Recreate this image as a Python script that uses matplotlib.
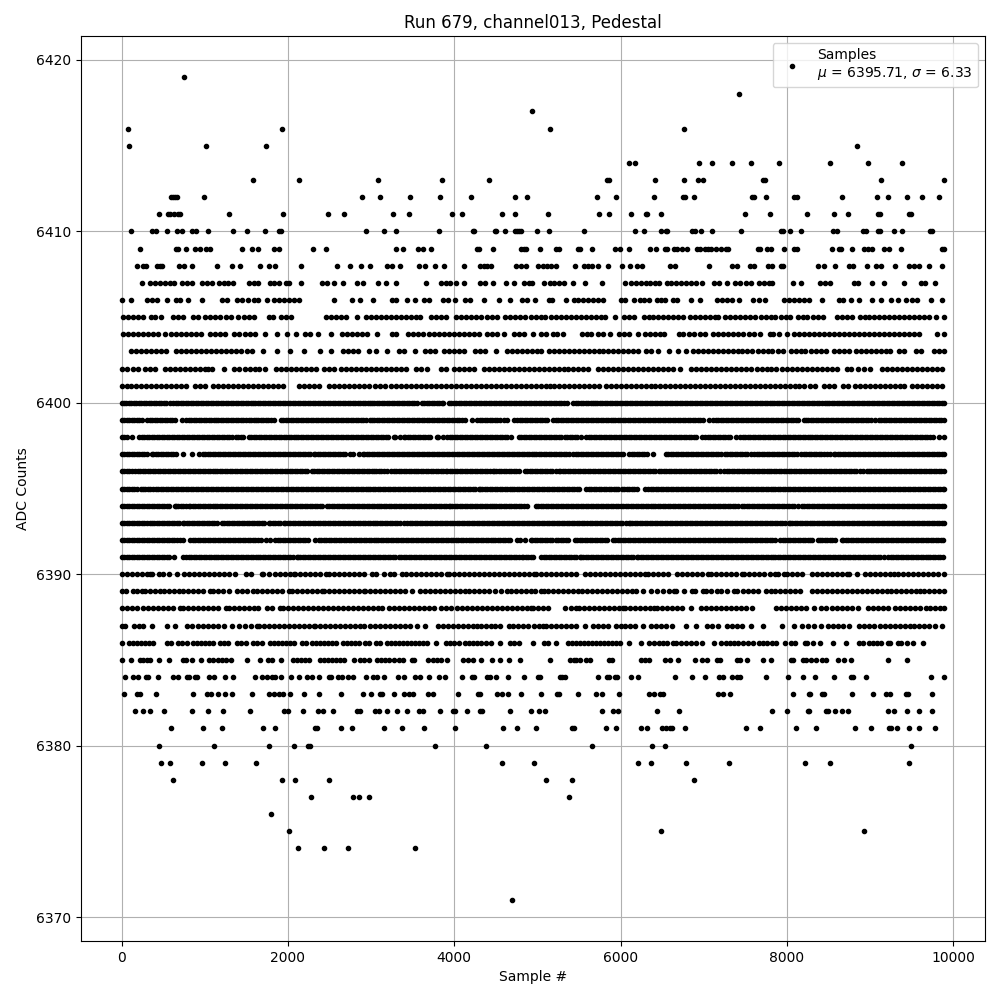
import matplotlib
matplotlib.use("Agg")
import matplotlib.pyplot as plt

# sample numbers, one list for each ADC level
s6419 = [755]
s6418 = [7430]
s6417 = [4935]
s6416 = [80, 1923, 5153, 6767]
s6415 = [92, 1020, 1742, 8839]
s6414 = [6104, 6177, 6948, 7104, 7345, 7574, 7900, 8514, 8972, 9381]
s6413 = [1574, 2128, 3080, 3850, 4416, 5839, 5863, 6418, 6767, 6936, 6996, 7707, 7731, 9128, 9887]
s6412 = [598, 622, 646, 670, 996, 2887, 3104, 3465, 3826, 4200, 4730, 4874, 5719, 5948, 6406, 6755, 6779, 6888,
         7586, 7610, 7743, 8080, 8116, 8659, 9080, 9213, 9442, 9622, 9827]
s6411 = [454, 562, 586, 634, 683, 707, 1297, 1935, 2477, 2670, 3260, 3453, 3970, 4091, 4573, 4730, 5129, 5743, 5863,
         6128, 6309, 6321, 6490, 7502, 7791, 8237, 8562, 8731, 9092, 9116, 9466, 9490]
s6410 = [116, 369, 418, 550, 670, 731, 851, 899, 1044, 1345, 1502, 1730, 1887, 1911, 2935, 3152, 3296, 3814, 4224, 4236,
         4489, 4501, 4609, 4730, 4754, 4778, 4802, 4996, 5141, 5562, 6177, 6285, 6490, 6550, 6562, 6863, 6900, 6972, 7104,
         7454, 7924, 7948, 8032, 8165, 8550, 8598, 8912, 8948, 9092, 9116, 9285, 9381, 9719, 9743]
s6409 = [225, 658, 683, 779, 887, 948, 1020, 1068, 1453, 1562, 1646, 1827, 1887, 2297, 2453, 3296, 3381, 3561, 3622, 3718,
         4272, 4296, 4465, 4802, 4838, 4862, 5032, 5225, 5261, 5490, 5514, 5659, 5936, 5996, 6104, 6357, 6430, 6538, 6562,
         6647, 6683, 6743, 6803, 6924, 6960, 7020, 7056, 7092, 7153, 7213, 7273, 7297, 7647, 7671, 7755, 7803, 7960, 8080,
         8116, 8538, 8622, 8647, 8779, 8924, 8972, 9020, 9165, 9225, 9369, 9863, 9885]
s6408 = [189, 261, 297, 430, 466, 490, 695, 755, 851, 1152, 1333, 1429, 1670, 1767, 1839, 2152, 2586, 2742, 2875, 2983,
         3188, 3248, 3344, 3573, 3646, 3766, 3874, 4115, 4308, 4356, 4396, 4445, 4742, 4802, 4862, 5008, 5068, 5117, 5165,
         5225, 5454, 5562, 5610, 5659, 5731, 5851, 6020, 6116, 6201, 6261, 6598, 6659, 7068, 7345, 7406, 7562, 7610, 7767,
         7827, 7924, 7948, 8369, 8442, 8574, 8743, 8791, 8960, 9068, 9128, 9297, 9466, 9526, 9586, 9707, 9863]
s6407 = [249, 341, 401, 462, 522, 582, 630, 731, 791, 851, 972, 1032, 1092, 1176, 1237, 1285, 1345, 1526, 1586, 1646,
         1779, 1827, 1887, 1971, 2008, 2152, 2405, 2465, 2550, 2658, 2827, 2899, 3080, 3176, 3296, 3658, 3839, 3899, 3947,
         4019, 4115, 4308, 4368, 4465, 4621, 4717, 4838, 4898, 4936, 5080, 5153, 5201, 5261, 5321, 5430, 5574, 5779, 6056,
         6128, 6189, 6249, 6309, 6357, 6418, 6466, 6562, 6610, 6671, 6731, 6791, 6851, 6912, 6984, 7128, 7189, 7285, 7382,
         7442, 7514, 7574, 7659, 7719, 7779, 7827, 8068, 8165, 8394, 8454, 8514, 8803, 8851, 9020, 9165, 9406, 9610, 9659,
         9779]
s6406 = [8, 116, 309, 369, 430, 550, 658, 707, 803, 972, 1213, 1273, 1393, 1453, 1514, 1586, 1646, 1743, 1827, 1887, 1947,
         2008, 2068, 2128, 2550, 2767, 2863, 3019, 3248, 3296, 3429, 3525, 3634, 3694, 3863, 3923, 4007, 4127, 4188, 4356,
         4537, 4669, 4814, 4874, 4972, 5141, 5177, 5345, 5442, 5490, 5550, 5610, 5671, 5731, 5791, 6008, 6056, 6165, 6237,
         6285, 6345, 6442, 6490, 6538, 6635, 6683, 6851, 6960, 7165, 7225, 7285, 7345, 7430, 7598, 7659, 7731, 7960, 8020,
         8080, 8141, 8201, 8261, 8418, 8622, 8671, 8767, 8863, 9020, 9128, 9249, 9333, 9430, 9502, 9562, 9731, 9863]
s6405 = [20, 80, 141, 201, 261, 357, 406, 478, 622, 683, 743, 863, 923, 1008, 1068, 1128, 1188, 1261, 1321, 1405, 1466,
         1526, 1586, 1767, 1815, 1911, 1971, 2032, 2453, 2513, 2574, 2634, 2694, 2827, 2935, 2995, 3056, 3116, 3176, 3236,
         3296, 3357, 3417, 3477, 3537, 3585, 3718, 3778, 3838, 3899, 4019, 4079, 4140, 4200, 4260, 4320, 4392, 4453, 4513,
         4609, 4669, 4730, 4790, 4850, 4924, 4984, 5044, 5092, 5165, 5225, 5285, 5345, 5406, 5466, 5526, 5586, 5647, 5707,
         5767, 5815, 5936, 6044, 6104, 6165, 6285, 6345, 6394, 6454, 6514, 6574, 6635, 6695, 6755, 6839, 6900, 6960, 7020,
         7080, 7141, 7177, 7261, 7321, 7382, 7442, 7502, 7562, 7622, 7683, 7743, 7803, 7863, 7924, 7984, 8032, 8129, 8189,
         8237, 8309, 8369, 8430, 8598, 8659, 8719, 8779, 8875, 8936, 8984, 9044, 9104, 9165, 9225, 9285, 9345, 9406, 9466,
         9526, 9586, 9647, 9707, 9791, 9888]
s6404 = [20, 80, 141, 201, 261, 321, 381, 442, 526, 598, 658, 719, 779, 839, 899, 960, 1068, 1128, 1188, 1249, 1357, 1417,
         1478, 1538, 1598, 1719, 1863, 1983, 2092, 2200, 2260, 2357, 2513, 2646, 2706, 2766, 2827, 2887, 2947, 3067, 3248,
         3296, 3441, 3501, 3562, 3622, 3694, 3754, 3814, 3875, 3935, 3995, 4055, 4115, 4176, 4236, 4296, 4392, 4453, 4513,
         4597, 4718, 4778, 4838, 4948, 5044, 5104, 5189, 5237, 5309, 5538, 5598, 5647, 5731, 5791, 5876, 5984, 6044, 6104,
         6213, 6297, 6357, 6418, 6478, 6526, 6707, 6755, 6827, 6888, 6960, 7020, 7116, 7177, 7237, 7297, 7357, 7418, 7478,
         7550, 7610, 7671, 7791, 7839, 7900, 7996, 8080, 8141, 8201, 8261, 8321, 8382, 8442, 8502, 8562, 8622, 8683, 8743,
         8803, 8863, 8924, 8984, 9044, 9104, 9165, 9225, 9285, 9345, 9406, 9466, 9526, 9586, 9803, 9888]
s6403 = [116, 176, 237, 297, 357, 418, 478, 538, 658, 719, 779, 839, 899, 960, 1020, 1080, 1140, 1201, 1261, 1321, 1381,
         1441, 1502, 1562, 1706, 1863, 2020, 2188, 2381, 2513, 2658, 2718, 2778, 2839, 2971, 3056, 3196, 3332, 3393, 3525,
         3646, 3706, 3766, 3875, 3935, 3995, 4055, 4115, 4248, 4308, 4368, 4501, 4633, 4693, 4754, 4814, 4874, 4934, 4995,
         5044, 5141, 5201, 5261, 5321, 5382, 5442, 5502, 5562, 5622, 5683, 5743, 5791, 5851, 5912, 5972, 6032, 6092, 6153,
         6213, 6309, 6369, 6454, 6586, 6695, 6791, 6875, 6936, 6996, 7056, 7116, 7177, 7237, 7297, 7357, 7418, 7466, 7526,
         7586, 7647, 7707, 7767, 7827, 7888, 7948, 8044, 8104, 8165, 8213, 8285, 8345, 8406, 8466, 8562, 8622, 8683, 8743,
         8827, 8887, 8948, 9008, 9068, 9128, 9189, 9237, 9345, 9406, 9550, 9610, 9767, 9827, 9888]
s6402 = [8, 68, 141, 201, 285, 345, 406, 526, 586, 646, 707, 767, 827, 887, 948, 1008, 1044, 1092, 1237, 1357, 1417, 1478,
         1538, 1598, 1658, 1719, 1851, 1911, 1971, 2032, 2092, 2152, 2212, 2272, 2333, 2429, 2489, 2550, 2634, 2694, 2754,
         2815, 2875, 2935, 2995, 3056, 3116, 3176, 3236, 3296, 3357, 3417, 3537, 3598, 3670, 3839, 3899, 3995, 4055, 4115,
         4176, 4236, 4357, 4417, 4477, 4537, 4597, 4657, 4718, 4778, 4838, 4898, 4958, 5019, 5080, 5141, 5201, 5261, 5321,
         5370, 5430, 5490, 5550, 5610, 5731, 5791, 5851, 5912, 5972, 6032, 6092, 6153, 6213, 6273, 6333, 6394, 6454, 6514,
         6574, 6635, 6719, 6851, 6912, 6972, 7032, 7092, 7153, 7213, 7273, 7333, 7394, 7454, 7514, 7574, 7635, 7695, 7755,
         7815, 7875, 7936, 7996, 8056, 8116, 8177, 8237, 8297, 8357, 8418, 8478, 8538, 8598, 8719, 8767, 8851, 8924, 8996,
         9141, 9201, 9261, 9321, 9381, 9442, 9502, 9562, 9622, 9683, 9743, 9803, 9863]
s6401 = [8, 60, 116, 176, 237, 297, 357, 418, 478, 538, 598, 658, 719, 779, 887, 948, 1008, 1096, 1156, 1216, 1277, 1337,
         1397, 1458, 1518, 1578, 1638, 1698, 1759, 1819, 1879, 1939, 2128, 2188, 2249, 2309, 2369, 2489, 2550, 2610, 2670,
         2730, 2790, 2851, 2911, 2971, 3043, 3104, 3164, 3236, 3296, 3357, 3417, 3477, 3537, 3598, 3658, 3718, 3778, 3838,
         3899, 3959, 4019, 4079, 4140, 4200, 4260, 4320, 4380, 4441, 4501, 4561, 4621, 4681, 4742, 4802, 4862, 4922, 4983,
         5043, 5103, 5148, 5200, 5260, 5320, 5380, 5440, 5500, 5560, 5620, 5680, 5740, 5820, 5880, 5940, 6000, 6060, 6120,
         6180, 6240, 6300, 6360, 6420, 6480, 6540, 6600, 6660, 6720, 6780, 6840, 6900, 6960, 7020, 7080, 7140, 7200, 7260,
         7320, 7380, 7440, 7500, 7560, 7620, 7680, 7740, 7800, 7860, 7920, 7980, 8040, 8100, 8145, 8209, 8273, 8340, 8442,
         8502, 8562, 8671, 8731, 8823, 8883, 8943, 9003, 9063, 9123, 9183, 9243, 9303, 9363, 9406, 9506, 9566, 9626, 9686,
         9746, 9806, 9866]
s6400 = [0, 58, 116, 176, 237, 297, 357, 418, 478, 538, 580, 620, 680, 740, 800, 860, 920, 980, 1040, 1100, 1160, 1220,
         1280, 1340, 1400, 1460, 1520, 1580, 1640, 1700, 1760, 1820, 1880, 1940, 2000, 2060, 2120, 2180, 2240, 2300, 2360,
         2420, 2480, 2540, 2600, 2660, 2720, 2780, 2840, 2900, 2960, 2990, 3010, 3070, 3130, 3190, 3250, 3310, 3370, 3430,
         3490, 3550, 3610, 3670, 3730, 3790, 3850, 3870, 3935, 3995, 4055, 4115, 4175, 4235, 4295, 4355, 4415, 4475, 4535,
         4595, 4655, 4715, 4775, 4835, 4895, 4955, 5015, 5075, 5135, 5195, 5255, 5315, 5350, 5430, 5490, 5550, 5610, 5670,
         5691, 5751, 5811, 5871, 5931, 5991, 6051, 6111, 6171, 6231, 6291, 6351, 6411, 6471, 6531, 6591, 6651, 6711, 6771,
         6831, 6891, 6951, 7011, 7071, 7131, 7191, 7251, 7311, 7371, 7431, 7491, 7551, 7611, 7671, 7731, 7791, 7851, 7911,
         7971, 8031, 8091, 8151, 8211, 8271, 8331, 8391, 8460, 8482, 8542, 8602, 8662, 8722, 8782, 8842, 8902, 8962, 9022,
         9082, 9142, 9202, 9262, 9322, 9382, 9442, 9502, 9562, 9622, 9682, 9742, 9802, 9862, 9885]
s6399 = [0, 60, 120, 180, 240, 301, 341, 401, 461, 521, 581, 641, 723, 775, 835, 895, 955, 1015, 1075, 1135, 1195, 1255,
         1315, 1375, 1435, 1494, 1526, 1586, 1646, 1706, 1766, 1835, 1915, 1975, 2035, 2095, 2155, 2215, 2275, 2335, 2395,
         2455, 2515, 2575, 2635, 2695, 2755, 2815, 2875, 2935, 2991, 3011, 3071, 3131, 3191, 3251, 3311, 3371, 3431, 3491,
         3551, 3611, 3671, 3731, 3791, 3851, 3911, 3971, 4031, 4095, 4135, 4216, 4276, 4336, 4396, 4456, 4516, 4597, 4637,
         4718, 4758, 4818, 4878, 4938, 4998, 5058, 5116, 5189, 5249, 5309, 5369, 5429, 5489, 5549, 5609, 5669, 5729, 5789,
         5849, 5909, 5969, 6029, 6089, 6149, 6209, 6269, 6329, 6389, 6449, 6509, 6569, 6629, 6689, 6749, 6809, 6869, 6929,
         6989, 7068, 7116, 7176, 7236, 7296, 7356, 7416, 7476, 7536, 7596, 7656, 7716, 7776, 7836, 7896, 7956, 8016, 8076,
         8136, 8201, 8229, 8289, 8349, 8409, 8469, 8529, 8589, 8649, 8709, 8769, 8829, 8889, 8949, 9009, 9064, 9104, 9164,
         9224, 9284, 9344, 9404, 9464, 9524, 9584, 9644, 9704, 9764, 9824, 9884]
s6398 = [0, 60, 128, 213, 273, 333, 393, 453, 513, 573, 633, 693, 753, 813, 873, 933, 993, 1053, 1113, 1173, 1233, 1293,
         1377, 1405, 1465, 1534, 1558, 1618, 1678, 1738, 1798, 1858, 1915, 1947, 2007, 2067, 2127, 2187, 2247, 2307, 2367,
         2427, 2487, 2547, 2607, 2667, 2727, 2787, 2847, 2907, 2967, 3027, 3087, 3147, 3207, 3272, 3292, 3345, 3401, 3413,
         3473, 3533, 3593, 3653, 3713, 3794, 3802, 3862, 3915, 3975, 4035, 4095, 4155, 4215, 4275, 4335, 4395, 4455, 4515,
         4575, 4635, 4677, 4778, 4838, 4898, 4958, 4988, 5048, 5108, 5168, 5228, 5288, 5329, 5358, 5418, 5478, 5530, 5590,
         5650, 5710, 5770, 5830, 5890, 5950, 6010, 6070, 6130, 6190, 6250, 6310, 6370, 6430, 6490, 6550, 6610, 6670, 6730,
         6790, 6850, 6910, 6976, 7016, 7076, 7136, 7196, 7256, 7316, 7390, 7438, 7498, 7558, 7618, 7678, 7738, 7798, 7858,
         7918, 7978, 8038, 8098, 8158, 8218, 8278, 8338, 8398, 8458, 8518, 8578, 8638, 8698, 8758, 8818, 8878, 8938, 8998,
         9058, 9118, 9178, 9238, 9298, 9358, 9418, 9478, 9538, 9598, 9658, 9718, 9759, 9827, 9888]
s6397 = [0, 60, 120, 180, 240, 300, 361, 381, 441, 501, 561, 622, 654, 743, 843, 935, 976, 1036, 1096, 1156, 1216, 1276,
         1336, 1396, 1456, 1516, 1576, 1636, 1696, 1756, 1816, 1876, 1936, 1996, 2056, 2116, 2176, 2236, 2309, 2329, 2389,
         2449, 2509, 2569, 2629, 2689, 2750, 2782, 2850, 2903, 2919, 2979, 3039, 3099, 3159, 3219, 3279, 3339, 3399, 3459,
         3519, 3579, 3639, 3699, 3759, 3819, 3879, 3939, 3999, 4059, 4119, 4179, 4239, 4299, 4359, 4419, 4479, 4539, 4599,
         4659, 4719, 4779, 4839, 4899, 4959, 5019, 5079, 5139, 5199, 5259, 5319, 5379, 5430, 5490, 5550, 5610, 5670, 5730,
         5790, 5850, 5910, 5970, 6030, 6100, 6133, 6193, 6253, 6313, 6394, 6546, 6606, 6666, 6726, 6786, 6846, 6906, 6966,
         7026, 7086, 7146, 7206, 7257, 7285, 7345, 7405, 7465, 7525, 7566, 7606, 7666, 7726, 7786, 7846, 7906, 7966, 8026,
         8086, 8169, 8201, 8261, 8321, 8381, 8441, 8482, 8514, 8562, 8582, 8642, 8702, 8762, 8822, 8882, 8942, 9002, 9062,
         9122, 9182, 9253, 9293, 9353, 9413, 9473, 9533, 9593, 9653, 9713, 9773, 9833, 9888]
s6396 = [0, 60, 120, 160, 193, 253, 313, 373, 433, 493, 553, 613, 673, 733, 793, 853, 913, 973, 1033, 1093, 1153, 1213,
         1273, 1333, 1393, 1453, 1513, 1573, 1633, 1693, 1753, 1813, 1873, 1933, 1993, 2053, 2113, 2173, 2228, 2285, 2345,
         2405, 2465, 2525, 2585, 2645, 2705, 2765, 2825, 2885, 2945, 3005, 3065, 3125, 3192, 3240, 3300, 3360, 3420, 3480,
         3540, 3600, 3660, 3720, 3780, 3840, 3895, 3915, 3975, 4035, 4095, 4155, 4215, 4275, 4335, 4395, 4469, 4477, 4537,
         4597, 4657, 4717, 4777, 4846, 4878, 4938, 4998, 5058, 5118, 5178, 5261, 5277, 5337, 5397, 5457, 5517, 5577, 5637,
         5697, 5757, 5817, 5877, 5937, 5997, 6057, 6117, 6177, 6237, 6297, 6357, 6417, 6466, 6490, 6550, 6610, 6670, 6730,
         6790, 6827, 6851, 6911, 6971, 7031, 7091, 7151, 7197, 7245, 7305, 7365, 7425, 7485, 7545, 7605, 7665, 7725, 7785,
         7845, 7905, 7965, 8025, 8085, 8145, 8205, 8265, 8325, 8385, 8445, 8505, 8565, 8625, 8685, 8745, 8805, 8875, 8916,
         8964, 8984, 9044, 9104, 9164, 9224, 9284, 9344, 9404, 9464, 9524, 9584, 9644, 9704, 9764, 9824, 9884]
s6395 = [0, 60, 120, 180, 229, 253, 313, 373, 414, 442, 502, 562, 622, 682, 742, 802, 862, 922, 982, 1016, 1044, 1104,
         1164, 1224, 1284, 1344, 1404, 1464, 1524, 1584, 1644, 1704, 1764, 1824, 1884, 1944, 2004, 2064, 2124, 2184, 2244,
         2304, 2364, 2424, 2484, 2544, 2604, 2664, 2724, 2784, 2844, 2904, 2959, 2992, 3052, 3112, 3172, 3232, 3292, 3352,
         3412, 3472, 3532, 3592, 3652, 3712, 3774, 3802, 3862, 3922, 3982, 4042, 4102, 4162, 4222, 4296, 4308, 4368, 4428,
         4488, 4548, 4608, 4669, 4693, 4753, 4813, 4873, 4933, 4993, 5053, 5113, 5173, 5233, 5293, 5353, 5413, 5478, 5502,
         5590, 5618, 5678, 5738, 5798, 5858, 5918, 5972, 6012, 6072, 6132, 6192, 6293, 6333, 6393, 6453, 6513, 6573, 6633,
         6693, 6753, 6813, 6873, 6933, 6993, 7053, 7113, 7173, 7233, 7293, 7353, 7413, 7473, 7533, 7593, 7653, 7713, 7773,
         7833, 7893, 7953, 8013, 8073, 8133, 8193, 8253, 8313, 8373, 8433, 8493, 8553, 8613, 8673, 8733, 8793, 8853, 8913,
         8973, 9033, 9093, 9153, 9213, 9273, 9333, 9393, 9453, 9513, 9573, 9633, 9693, 9753, 9813, 9873, 9888]
s6394 = [0, 60, 120, 180, 240, 300, 360, 420, 486, 510, 570, 642, 654, 714, 774, 815, 823, 883, 943, 1003, 1063, 1123,
         1183, 1243, 1303, 1363, 1423, 1483, 1543, 1603, 1663, 1723, 1783, 1843, 1903, 1963, 2023, 2083, 2143, 2203, 2263,
         2323, 2383, 2409, 2469, 2529, 2589, 2649, 2709, 2769, 2829, 2889, 2949, 3009, 3072, 3092, 3152, 3212, 3272, 3332,
         3392, 3452, 3512, 3572, 3632, 3692, 3752, 3812, 3872, 3935, 3947, 4007, 4067, 4127, 4187, 4247, 4307, 4367, 4427,
         4477, 4505, 4565, 4625, 4685, 4745, 4805, 4878, 4979, 5040, 5100, 5160, 5220, 5280, 5340, 5400, 5460, 5520, 5580,
         5640, 5700, 5760, 5820, 5880, 5940, 6000, 6060, 6120, 6180, 6240, 6300, 6360, 6420, 6480, 6540, 6600, 6660, 6720,
         6780, 6840, 6900, 6960, 7020, 7080, 7140, 7200, 7260, 7320, 7380, 7458, 7486, 7546, 7606, 7666, 7726, 7786, 7846,
         7906, 7966, 8026, 8086, 8129, 8181, 8241, 8301, 8361, 8421, 8481, 8541, 8601, 8661, 8721, 8781, 8841, 8901, 8961,
         9021, 9081, 9141, 9201, 9261, 9321, 9381, 9441, 9501, 9561, 9621, 9681, 9741, 9801, 9861, 9888]
s6393 = [0, 60, 120, 180, 240, 300, 341, 361, 421, 481, 541, 601, 661, 743, 751, 811, 871, 931, 991, 1051, 1111, 1204,
         1233, 1293, 1353, 1413, 1473, 1533, 1593, 1653, 1713, 1767, 1787, 1847, 1907, 1947, 1967, 2027, 2087, 2147, 2207,
         2267, 2327, 2387, 2447, 2507, 2567, 2627, 2687, 2747, 2807, 2867, 2927, 2987, 3047, 3107, 3167, 3227, 3287, 3347,
         3433, 3493, 3553, 3613, 3673, 3733, 3793, 3853, 3913, 3973, 4033, 4093, 4153, 4213, 4273, 4333, 4393, 4453, 4513,
         4573, 4633, 4693, 4753, 4813, 4873, 4933, 4993, 5053, 5113, 5173, 5233, 5293, 5353, 5413, 5473, 5533, 5593, 5638,
         5659, 5719, 5779, 5839, 5899, 5959, 6019, 6100, 6112, 6172, 6232, 6292, 6352, 6412, 6472, 6532, 6592, 6652, 6712,
         6772, 6832, 6892, 6952, 7012, 7072, 7132, 7192, 7252, 7312, 7372, 7432, 7492, 7552, 7612, 7672, 7732, 7792, 7852,
         7912, 7972, 8020, 8032, 8092, 8152, 8212, 8272, 8332, 8392, 8452, 8512, 8572, 8632, 8692, 8752, 8812, 8872, 8932,
         8992, 9052, 9112, 9172, 9232, 9292, 9352, 9412, 9472, 9532, 9592, 9652, 9712, 9772, 9832, 9888]
s6392 = [4, 64, 124, 184, 244, 304, 364, 424, 484, 544, 604, 664, 703, 743, 823, 855, 915, 975, 1035, 1095, 1155, 1215,
         1275, 1335, 1395, 1455, 1515, 1575, 1635, 1674, 1734, 1790, 1847, 1879, 1939, 1999, 2059, 2119, 2179, 2239, 2329,
         2369, 2429, 2489, 2549, 2609, 2669, 2729, 2789, 2849, 2909, 2969, 3029, 3089, 3149, 3209, 3269, 3329, 3389, 3449,
         3509, 3569, 3629, 3689, 3749, 3809, 3869, 3929, 3989, 4049, 4109, 4176, 4196, 4256, 4316, 4376, 4436, 4496, 4556,
         4616, 4676, 4758, 4790, 4850, 4918, 4938, 4998, 5058, 5118, 5178, 5229, 5253, 5313, 5373, 5450, 5478, 5538, 5598,
         5658, 5718, 5778, 5838, 5912, 5936, 5996, 6056, 6116, 6176, 6236, 6296, 6356, 6416, 6476, 6536, 6596, 6656, 6716,
         6776, 6836, 6896, 6956, 7016, 7076, 7136, 7196, 7256, 7316, 7376, 7436, 7496, 7556, 7616, 7676, 7736, 7796, 7856,
         7920, 7948, 8008, 8068, 8128, 8188, 8248, 8308, 8370, 8394, 8454, 8514, 8574, 8659, 8679, 8739, 8799, 8859, 8919,
         8979, 9039, 9099, 9159, 9219, 9279, 9339, 9399, 9459, 9519, 9579, 9639, 9699, 9759, 9819, 9879]
s6391 = [0, 60, 120, 180, 240, 300, 360, 420, 480, 540, 574, 630, 735, 775, 835, 895, 955, 1015, 1075, 1135, 1195, 1255,
         1315, 1375, 1435, 1495, 1555, 1615, 1666, 1698, 1758, 1818, 1878, 1938, 1998, 2058, 2108, 2120, 2180, 2240, 2300,
         2360, 2420, 2480, 2540, 2600, 2660, 2720, 2780, 2840, 2900, 2960, 3020, 3080, 3140, 3200, 3260, 3332, 3365, 3425,
         3485, 3545, 3605, 3665, 3725, 3785, 3845, 3905, 3965, 4025, 4085, 4145, 4205, 4265, 4325, 4385, 4445, 4505, 4565,
         4625, 4685, 4745, 4818, 4830, 4890, 4950, 5044, 5076, 5136, 5196, 5256, 5316, 5376, 5436, 5510, 5522, 5582, 5642,
         5702, 5762, 5822, 5882, 5942, 6002, 6062, 6122, 6193, 6213, 6273, 6333, 6393, 6453, 6513, 6573, 6633, 6693, 6753,
         6813, 6873, 6933, 6993, 7053, 7113, 7173, 7233, 7293, 7353, 7413, 7473, 7533, 7593, 7653, 7713, 7773, 7833, 7893,
         7953, 8013, 8073, 8133, 8193, 8253, 8313, 8373, 8433, 8493, 8553, 8613, 8673, 8733, 8793, 8853, 8913, 8973, 9033,
         9093, 9165, 9217, 9277, 9337, 9397, 9457, 9517, 9577, 9637, 9697, 9757, 9817, 9877]
s6390 = [4, 60, 120, 180, 240, 300, 341, 361, 454, 502, 570, 662, 751, 811, 871, 931, 991, 1051, 1111, 1171, 1231, 1291,
         1365, 1494, 1560, 1686, 1706, 1767, 1847, 1907, 1967, 2027, 2068, 2088, 2148, 2208, 2268, 2328, 2388, 2457, 2489,
         2549, 2609, 2669, 2729, 2789, 2849, 2909, 3011, 3064, 3150, 3232, 3272, 3373, 3421, 3481, 3541, 3601, 3661, 3721,
         3781, 3841, 3915, 3935, 3995, 4055, 4115, 4175, 4235, 4295, 4355, 4415, 4475, 4535, 4595, 4655, 4715, 4775, 4835,
         4895, 4958, 4979, 5040, 5100, 5160, 5220, 5280, 5340, 5400, 5470, 5574, 5634, 5694, 5754, 5814, 5874, 5934, 5994,
         6054, 6114, 6174, 6234, 6294, 6333, 6394, 6454, 6514, 6575, 6675, 6735, 6795, 6855, 6915, 6975, 7056, 7088, 7148,
         7208, 7268, 7328, 7388, 7458, 7486, 7546, 7606, 7660, 7719, 7791, 7859, 7891, 7960, 8000, 8060, 8120, 8181, 8301,
         8361, 8421, 8481, 8541, 8601, 8661, 8723, 8743, 8843, 8944, 9004, 9064, 9124, 9184, 9244, 9285, 9333, 9398, 9458,
         9518, 9578, 9638, 9698, 9758, 9818, 9888]
s6389 = [0, 52, 141, 190, 241, 281, 340, 400, 462, 510, 570, 630, 690, 743, 803, 863, 923, 983, 1064, 1104, 1164, 1224,
         1297, 1385, 1445, 1505, 1578, 1626, 1686, 1746, 1806, 1866, 1926, 2008, 2048, 2108, 2168, 2228, 2288, 2348, 2409,
         2429, 2489, 2549, 2609, 2669, 2729, 2789, 2849, 2911, 2931, 2991, 3051, 3111, 3171, 3231, 3291, 3351, 3411, 3493,
         3593, 3653, 3713, 3773, 3833, 3893, 3953, 4013, 4073, 4133, 4176, 4236, 4296, 4360, 4417, 4485, 4560, 4637, 4677,
         4737, 4797, 4857, 4917, 4977, 5040, 5076, 5129, 5189, 5249, 5309, 5369, 5429, 5489, 5542, 5598, 5658, 5718, 5778,
         5838, 5898, 5958, 6018, 6078, 6138, 6185, 6273, 6360, 6442, 6514, 6580, 6643, 6667, 6760, 6859, 6892, 6988, 7028,
         7090, 7157, 7205, 7285, 7365, 7406, 7470, 7530, 7590, 7655, 7751, 7807, 7859, 7919, 7979, 8039, 8099, 8161, 8301,
         8361, 8421, 8481, 8541, 8601, 8661, 8721, 8781, 8841, 8901, 8961, 9021, 9081, 9141, 9201, 9253, 9309, 9369, 9429,
         9489, 9549, 9606, 9647, 9707, 9767, 9827, 9888]
s6388 = [4, 64, 124, 184, 261, 313, 373, 433, 493, 553, 613, 703, 743, 803, 863, 923, 983, 1043, 1103, 1163, 1257, 1293,
         1353, 1413, 1473, 1533, 1594, 1646, 1747, 1807, 1907, 1939, 1999, 2059, 2119, 2179, 2239, 2299, 2359, 2419, 2479,
         2539, 2599, 2659, 2719, 2779, 2839, 2899, 2959, 3019, 3079, 3132, 3212, 3272, 3332, 3392, 3452, 3512, 3572, 3632,
         3692, 3752, 3842, 3899, 3960, 4030, 4095, 4156, 4216, 4276, 4336, 4396, 4456, 4516, 4576, 4636, 4696, 4756, 4816,
         4876, 4918, 4946, 5006, 5066, 5129, 5329, 5400, 5470, 5498, 5558, 5618, 5678, 5738, 5798, 5858, 5918, 5978, 6032,
         6052, 6112, 6172, 6232, 6292, 6352, 6402, 6442, 6502, 6562, 6622, 6682, 6742, 6843, 6968, 7028, 7088, 7148, 7208,
         7268, 7328, 7388, 7448, 7508, 7578, 7871, 7931, 7991, 8051, 8111, 8171, 8231, 8321, 8414, 8474, 8542, 8602, 8662,
         8722, 8782, 8851, 8972, 9032, 9092, 9152, 9212, 9305, 9365, 9425, 9485, 9545, 9606, 9667, 9727, 9787, 9847, 9888]
s6387 = [0, 40, 153, 205, 261, 361, 542, 642, 791, 850, 923, 984, 1044, 1104, 1164, 1233, 1333, 1417, 1486, 1560, 1626,
         1658, 1718, 1778, 1838, 1898, 1958, 2018, 2078, 2138, 2198, 2258, 2309, 2329, 2389, 2449, 2509, 2569, 2629, 2689,
         2749, 2809, 2869, 2911, 2991, 3052, 3112, 3172, 3232, 3292, 3352, 3412, 3472, 3553, 3654, 3802, 3862, 3922, 3982,
         4042, 4102, 4162, 4222, 4276, 4316, 4376, 4436, 4496, 4556, 4657, 4710, 4770, 4830, 4890, 4956, 5020, 5068, 5108,
         5168, 5228, 5288, 5348, 5408, 5468, 5570, 5671, 5731, 5791, 5851, 5944, 6000, 6052, 6112, 6173, 6273, 6361, 6426,
         6486, 6546, 6618, 6787, 6908, 7036, 7100, 7177, 7285, 7345, 7405, 7465, 7566, 7711, 7940, 8080, 8181, 8249, 8321,
         8410, 8494, 8554, 8614, 8674, 8743, 8863, 8923, 8983, 9043, 9124, 9185, 9245, 9305, 9365, 9425, 9486, 9534, 9594,
         9654, 9714, 9787, 9867]
s6386 = [0, 92, 141, 189, 237, 285, 333, 381, 550, 598, 683, 731, 791, 863, 911, 960, 1008, 1056, 1104, 1188, 1237, 1285,
         1393, 1441, 1490, 1574, 1634, 1694, 1779, 1827, 1875, 1923, 1971, 2020, 2068, 2164, 2212, 2285, 2333, 2381, 2429,
         2477, 2525, 2574, 2658, 2706, 2754, 2803, 2851, 2923, 2971, 3056, 3104, 3188, 3236, 3284, 3332, 3381, 3429, 3477,
         3525, 3573, 3622, 3670, 3778, 3899, 3947, 3995, 4055, 4127, 4176, 4224, 4272, 4320, 4380, 4441, 4549, 4669, 4718,
         4778, 4948, 5080, 5129, 5225, 5370, 5418, 5466, 5514, 5562, 5610, 5659, 5707, 5755, 5803, 5851, 5900, 5948, 5996,
         6104, 6249, 6345, 6406, 6466, 6514, 6562, 6635, 6671, 6731, 6791, 6851, 6912, 6984, 7128, 7213, 7273, 7321, 7369,
         7418, 7478, 7538, 7598, 7659, 7707, 7755, 7827, 7875, 7972, 8044, 8092, 8213, 8237, 8309, 8394, 8550, 8707, 8863,
         8912, 8984, 9032, 9080, 9128, 9213, 9237, 9333, 9369, 9442, 9514, 9635]
s6385 = [0, 116, 225, 261, 309, 345, 454, 574, 743, 779, 851, 960, 1056, 1104, 1164, 1213, 1261, 1321, 1502, 1670, 1755,
         1803, 1919, 2056, 2104, 2152, 2200, 2248, 2381, 2429, 2477, 2525, 2574, 2622, 2670, 2790, 2863, 2911, 2971, 3067,
         3116, 3164, 3212, 3272, 3332, 3381, 3489, 3513, 3682, 3742, 3790, 3838, 3911, 4103, 4164, 4224, 4320, 4453, 4549,
         4657, 4790, 5153, 5394, 5442, 5466, 5514, 5586, 5634, 5863, 5900, 6249, 6297, 6345, 6538, 6598, 6695, 6900, 6984,
         7044, 7165, 7201, 7406, 7442, 7526, 7707, 7803, 8044, 8068, 8189, 8225, 8285, 8345, 8418, 8466, 8610, 8683, 8767,
         9213, 9442]
s6384 = [44, 141, 201, 297, 321, 442, 622, 683, 791, 815, 887, 911, 1056, 1116, 1249, 1345, 1598, 1694, 1743, 1803, 1839,
         1911, 2032, 2128, 2224, 2285, 2369, 2489, 2513, 2598, 2646, 2718, 2778, 2935, 3019, 3067, 3152, 3320, 3393, 3525,
         3585, 3694, 3814, 3887, 4091, 4212, 4236, 4392, 4429, 4501, 4645, 4838, 5008, 5032, 5273, 5297, 5333, 5731, 5839,
         5863, 5936, 5960, 6128, 6213, 6659, 6863, 7020, 7189, 7237, 7345, 7406, 7442, 7743, 8008, 8189, 8333, 8562, 8767,
         8791, 8948, 9731, 9887]
s6383 = [32, 189, 225, 418, 863, 1032, 1080, 1164, 1249, 1333, 1562, 1767, 1827, 1887, 1935, 2020, 2188, 2369, 2634, 2899,
         2995, 3104, 3128, 3272, 3393, 3453, 3501, 3682, 3742, 4043, 4284, 4308, 4513, 4573, 4645, 4802, 5044, 5237, 5261,
         5490, 5707, 5779, 5984, 6345, 6406, 6478, 6514, 7177, 7237, 7321, 8068, 8261, 8273, 8418, 8442, 8779, 9032, 9189,
         9237, 9430, 9454, 9743]
s6382 = [165, 261, 345, 514, 851, 1044, 1225, 1538, 1947, 1995, 2180, 2357, 2417, 2537, 2827, 2863, 3043, 3092, 3188, 3308,
         3429, 3573, 3622, 3826, 3983, 4007, 4151, 4308, 4332, 4669, 4924, 5020, 5092, 5779, 5912, 5972, 6442, 6707, 7827,
         7996, 8249, 8261, 8466, 8490, 8574, 8659, 8731, 9213, 9285, 9442, 9586, 9743]
s6381 = [598, 984, 1213, 1706, 1839, 2321, 2345, 2634, 2766, 3152, 3369, 3634, 4007, 4585, 4754, 4984, 5418, 5442, 5827,
         5948, 6249, 6321, 6502, 6550, 6598, 6622, 6779, 7514, 7671, 8104, 8345, 8815, 9008, 9225, 9249, 9321, 9466, 9586,
         9779]
s6380 = [454, 1116, 1767, 2068, 2236, 2260, 3766, 4380, 5659, 6382, 6538, 9490]
s6379 = [478, 586, 972, 1249, 1622, 4573, 4960, 6213, 6369, 6791, 7309, 8213, 8514, 9466]
s6378 = [622, 1923, 2080, 2489, 5104, 5418, 6888]
s6377 = [2272, 2778, 2851, 2971, 5381]
s6376 = [1791]
s6375 = [2008, 6490, 8924]
s6374 = [2116, 2429, 2718, 3525]
s6371 = [4700]

# second pass over the solid bands, they merge into lines in the picture
e6400 = [30, 87, 146, 206, 267, 327, 387, 448, 508, 650, 710, 770, 830, 890, 950, 1010, 1070, 1130, 1190, 1250, 1310,
         1370, 1430, 1490, 1550, 1610, 1670, 1730, 1790, 1850, 1910, 1970, 2030, 2090, 2150, 2210, 2270, 2330, 2390, 2450,
         2510, 2570, 2630, 2690, 2750, 2810, 2870, 2930, 3040, 3100, 3160, 3220, 3280, 3340, 3400, 3460, 3520, 3640, 3700,
         3760, 3820, 3965, 4025, 4085, 4145, 4205, 4265, 4325, 4385, 4445, 4505, 4565, 4625, 4685, 4745, 4805, 4865, 4925,
         4985, 5045, 5105, 5165, 5225, 5285, 5460, 5520, 5580, 5640, 5721, 5781, 5841, 5901, 5961, 6021, 6081, 6141, 6201,
         6261, 6321, 6381, 6441, 6501, 6561, 6621, 6681, 6741, 6801, 6861, 6921, 6981, 7041, 7101, 7161, 7221, 7281, 7341,
         7401, 7461, 7521, 7581, 7641, 7701, 7761, 7821, 7881, 7941, 8001, 8061, 8121, 8181, 8241, 8301, 8361, 8421, 8512,
         8572, 8632, 8692, 8752, 8812, 8872, 8932, 8992, 9052, 9112, 9172, 9232, 9292, 9352, 9412, 9472, 9532, 9592, 9652,
         9712, 9772, 9832]
e6399 = [30, 90, 150, 210, 371, 431, 491, 551, 611, 805, 865, 925, 985, 1045, 1105, 1165, 1225, 1285, 1345, 1405, 1465,
         1556, 1616, 1676, 1736, 1796, 1945, 2005, 2065, 2125, 2185, 2245, 2305, 2365, 2425, 2485, 2545, 2605, 2665, 2725,
         2785, 2845, 2905, 3041, 3101, 3161, 3221, 3281, 3341, 3401, 3461, 3521, 3581, 3641, 3701, 3761, 3821, 3881, 3941,
         4001, 4061, 4306, 4366, 4426, 4486, 4546, 4788, 4848, 4908, 4968, 5028, 5088, 5219, 5279, 5339, 5399, 5459, 5519,
         5579, 5639, 5699, 5759, 5819, 5879, 5939, 5999, 6059, 6119, 6179, 6239, 6299, 6359, 6419, 6479, 6539, 6599, 6659,
         6719, 6779, 6839, 6899, 6959, 7146, 7206, 7266, 7326, 7386, 7446, 7506, 7566, 7626, 7686, 7746, 7806, 7866, 7926,
         7986, 8046, 8106, 8259, 8319, 8379, 8439, 8499, 8559, 8619, 8679, 8739, 8799, 8859, 8919, 8979, 9134, 9194, 9254,
         9314, 9374, 9434, 9494, 9554, 9614, 9674, 9734, 9794, 9854]
e6398 = [30, 243, 303, 363, 423, 483, 543, 603, 663, 723, 783, 843, 903, 963, 1023, 1083, 1143, 1203, 1263, 1323, 1435,
         1588, 1648, 1708, 1768, 1828, 1888, 1977, 2037, 2097, 2157, 2217, 2277, 2337, 2397, 2457, 2517, 2577, 2637, 2697,
         2757, 2817, 2877, 2937, 2997, 3057, 3117, 3177, 3443, 3503, 3563, 3623, 3683, 3945, 4005, 4065, 4125, 4185, 4245,
         4305, 4365, 4425, 4485, 4545, 4605, 4808, 4868, 4928, 5018, 5078, 5138, 5198, 5258, 5388, 5448, 5620, 5680, 5740,
         5800, 5860, 5920, 5980, 6040, 6100, 6160, 6220, 6280, 6340, 6400, 6460, 6520, 6580, 6640, 6700, 6760, 6820, 6880,
         7046, 7106, 7166, 7226, 7286, 7468, 7528, 7588, 7648, 7708, 7768, 7828, 7888, 7948, 8008, 8068, 8128, 8188, 8248,
         8308, 8368, 8428, 8488, 8548, 8608, 8668, 8728, 8788, 8848, 8908, 8968, 9028, 9088, 9148, 9208, 9268, 9328, 9388,
         9448, 9508, 9568, 9628, 9688]
e6397 = [30, 90, 150, 210, 270, 411, 471, 531, 591, 1006, 1066, 1126, 1186, 1246, 1306, 1366, 1426, 1486, 1546, 1606,
         1666, 1726, 1786, 1846, 1906, 1966, 2026, 2086, 2146, 2206, 2266, 2359, 2419, 2479, 2539, 2599, 2659, 2949, 3009,
         3069, 3129, 3189, 3249, 3309, 3369, 3429, 3489, 3549, 3609, 3669, 3729, 3789, 3849, 3909, 3969, 4029, 4089, 4149,
         4209, 4269, 4329, 4389, 4449, 4509, 4569, 4629, 4689, 4749, 4809, 4869, 4929, 4989, 5049, 5109, 5169, 5229, 5289,
         5349, 5460, 5520, 5580, 5640, 5700, 5760, 5820, 5880, 5940, 6000, 6163, 6223, 6283, 6576, 6636, 6696, 6756, 6816,
         6876, 6936, 6996, 7056, 7116, 7176, 7315, 7375, 7435, 7495, 7636, 7696, 7756, 7816, 7876, 7936, 7996, 8056, 8116,
         8231, 8291, 8351, 8411, 8612, 8672, 8732, 8792, 8852, 8912, 8972, 9032, 9092, 9152, 9212, 9323, 9383, 9443, 9503,
         9563, 9623, 9683, 9743, 9803, 9860]
e6396 = [30, 90, 223, 283, 343, 403, 463, 523, 583, 643, 703, 763, 823, 883, 943, 1003, 1063, 1123, 1183, 1243, 1303,
         1363, 1423, 1483, 1543, 1603, 1663, 1723, 1783, 1843, 1903, 1963, 2023, 2083, 2143, 2203, 2315, 2375, 2435, 2495,
         2555, 2615, 2675, 2735, 2795, 2855, 2915, 2975, 3035, 3095, 3155, 3270, 3330, 3390, 3450, 3510, 3570, 3630, 3690,
         3750, 3810, 3870, 3945, 4005, 4065, 4125, 4185, 4245, 4305, 4365, 4425, 4507, 4567, 4627, 4687, 4747, 4908, 4968,
         5028, 5088, 5148, 5218, 5307, 5367, 5427, 5487, 5547, 5607, 5667, 5727, 5787, 5847, 5907, 5967, 6027, 6087, 6147,
         6207, 6267, 6327, 6387, 6520, 6580, 6640, 6700, 6760, 6881, 6941, 7001, 7061, 7121, 7275, 7335, 7395, 7455, 7515,
         7575, 7635, 7695, 7755, 7815, 7875, 7935, 7995, 8055, 8115, 8175, 8235, 8295, 8355, 8415, 8475, 8535, 8595, 8655,
         8715, 8775, 8835, 9014, 9074, 9134, 9194, 9254, 9314, 9374, 9434, 9494, 9554, 9614, 9674, 9734, 9794, 9854]
e6395 = [30, 90, 150, 283, 343, 472, 532, 592, 652, 712, 772, 832, 892, 952, 1074, 1134, 1194, 1254, 1314, 1374, 1434,
         1494, 1554, 1614, 1674, 1734, 1794, 1854, 1914, 1974, 2034, 2094, 2154, 2214, 2274, 2334, 2394, 2454, 2514, 2574,
         2634, 2694, 2754, 2814, 2874, 2934, 3022, 3082, 3142, 3202, 3262, 3322, 3382, 3442, 3502, 3562, 3622, 3682, 3742,
         3832, 3892, 3952, 4012, 4072, 4132, 4192, 4252, 4338, 4398, 4458, 4518, 4578, 4638, 4723, 4783, 4843, 4903, 4963,
         5023, 5083, 5143, 5203, 5263, 5323, 5383, 5443, 5648, 5708, 5768, 5828, 5888, 5948, 6042, 6102, 6162, 6363, 6423,
         6483, 6543, 6603, 6663, 6723, 6783, 6843, 6903, 6963, 7023, 7083, 7143, 7203, 7263, 7323, 7383, 7443, 7503, 7563,
         7623, 7683, 7743, 7803, 7863, 7923, 7983, 8043, 8103, 8163, 8223, 8283, 8343, 8403, 8463, 8523, 8583, 8643, 8703,
         8763, 8823, 8883, 8943, 9003, 9063, 9123, 9183, 9243, 9303, 9363, 9423, 9483, 9543, 9603, 9663, 9723, 9783, 9843]
e6394 = [30, 90, 150, 210, 270, 330, 390, 450, 540, 684, 744, 853, 913, 973, 1033, 1093, 1153, 1213, 1273, 1333, 1393,
         1453, 1513, 1573, 1633, 1693, 1753, 1813, 1873, 1933, 1993, 2053, 2113, 2173, 2233, 2293, 2353, 2499, 2559, 2619,
         2679, 2739, 2799, 2859, 2919, 2979, 3040, 3122, 3182, 3242, 3302, 3362, 3422, 3482, 3542, 3602, 3662, 3722, 3782,
         3842, 3902, 3977, 4037, 4097, 4157, 4217, 4277, 4337, 4397, 4457, 4535, 4595, 4655, 4715, 4775, 4835, 5010, 5070,
         5130, 5190, 5250, 5310, 5370, 5430, 5490, 5550, 5610, 5670, 5730, 5790, 5850, 5910, 5970, 6030, 6090, 6150, 6210,
         6270, 6330, 6390, 6450, 6510, 6570, 6630, 6690, 6750, 6810, 6870, 6930, 6990, 7050, 7110, 7170, 7230, 7290, 7350,
         7410, 7516, 7576, 7636, 7696, 7756, 7816, 7876, 7936, 7996, 8056, 8211, 8271, 8331, 8391, 8451, 8511, 8571, 8631,
         8691, 8751, 8811, 8871, 8931, 8991, 9051, 9111, 9171, 9231, 9291, 9351, 9411, 9471, 9531, 9591, 9651, 9711, 9771,
         9831]
e6393 = [30, 90, 150, 210, 270, 391, 451, 511, 571, 631, 691, 781, 841, 901, 961, 1021, 1081, 1150, 1263, 1323, 1383,
         1443, 1503, 1563, 1623, 1683, 1817, 1877, 1997, 2057, 2117, 2177, 2237, 2297, 2357, 2417, 2477, 2537, 2597, 2657,
         2717, 2777, 2837, 2897, 2957, 3017, 3077, 3137, 3197, 3257, 3317, 3390, 3463, 3523, 3583, 3643, 3703, 3763, 3823,
         3883, 3943, 4003, 4063, 4123, 4183, 4243, 4303, 4363, 4423, 4483, 4543, 4603, 4663, 4723, 4783, 4843, 4903, 4963,
         5023, 5083, 5143, 5203, 5263, 5323, 5383, 5443, 5503, 5563, 5689, 5749, 5809, 5869, 5929, 5989, 6060, 6142, 6202,
         6262, 6322, 6382, 6442, 6502, 6562, 6622, 6682, 6742, 6802, 6862, 6922, 6982, 7042, 7102, 7162, 7222, 7282, 7342,
         7402, 7462, 7522, 7582, 7642, 7702, 7762, 7822, 7882, 7942, 8062, 8122, 8182, 8242, 8302, 8362, 8422, 8482, 8542,
         8602, 8662, 8722, 8782, 8842, 8902, 8962, 9022, 9082, 9142, 9202, 9262, 9322, 9382, 9442, 9502, 9562, 9622, 9682,
         9742, 9802, 9860]
e6392 = [34, 94, 154, 214, 274, 334, 394, 454, 514, 574, 634, 885, 945, 1005, 1065, 1125, 1185, 1245, 1305, 1365, 1425,
         1485, 1545, 1605, 1909, 1969, 2029, 2089, 2149, 2209, 2399, 2459, 2519, 2579, 2639, 2699, 2759, 2819, 2879, 2939,
         2999, 3059, 3119, 3179, 3239, 3299, 3359, 3419, 3479, 3539, 3599, 3659, 3719, 3779, 3839, 3899, 3959, 4019, 4079,
         4139, 4226, 4286, 4346, 4406, 4466, 4526, 4586, 4646, 4968, 5028, 5088, 5148, 5283, 5343, 5508, 5568, 5628, 5688,
         5748, 5808, 5966, 6026, 6086, 6146, 6206, 6266, 6326, 6386, 6446, 6506, 6566, 6626, 6686, 6746, 6806, 6866, 6926,
         6986, 7046, 7106, 7166, 7226, 7286, 7346, 7406, 7466, 7526, 7586, 7646, 7706, 7766, 7826, 7978, 8038, 8098, 8158,
         8218, 8278, 8424, 8484, 8544, 8709, 8769, 8829, 8889, 8949, 9009, 9069, 9129, 9189, 9249, 9309, 9369, 9429, 9489,
         9549, 9609, 9669, 9729, 9789, 9849]
e6391 = [30, 90, 150, 210, 270, 330, 390, 450, 510, 805, 865, 925, 985, 1045, 1105, 1165, 1225, 1285, 1345, 1405, 1465,
         1525, 1585, 1645, 1728, 1788, 1848, 1908, 1968, 2028, 2150, 2210, 2270, 2330, 2390, 2450, 2510, 2570, 2630, 2690,
         2750, 2810, 2870, 2930, 2990, 3050, 3110, 3170, 3230, 3290, 3395, 3455, 3515, 3575, 3635, 3695, 3755, 3815, 3875,
         3935, 3995, 4055, 4115, 4175, 4235, 4295, 4355, 4415, 4475, 4535, 4595, 4655, 4715, 4775, 4860, 4920, 5106, 5166,
         5226, 5286, 5346, 5406, 5466, 5552, 5612, 5672, 5732, 5792, 5852, 5912, 5972, 6032, 6092, 6152, 6243, 6303, 6363,
         6423, 6483, 6543, 6603, 6663, 6723, 6783, 6843, 6903, 6963, 7023, 7083, 7143, 7203, 7263, 7323, 7383, 7443, 7503,
         7563, 7623, 7683, 7743, 7803, 7863, 7923, 7983, 8043, 8103, 8163, 8223, 8283, 8343, 8403, 8463, 8523, 8583, 8643,
         8703, 8763, 8823, 8883, 8943, 9003, 9063, 9123, 9247, 9307, 9367, 9427, 9487, 9547, 9607, 9667, 9727, 9787, 9847]

levels = {
    6419: s6419, 6418: s6418, 6417: s6417, 6416: s6416, 6415: s6415, 6414: s6414, 6413: s6413, 6412: s6412,
    6411: s6411, 6410: s6410, 6409: s6409, 6408: s6408, 6407: s6407, 6406: s6406, 6405: s6405, 6404: s6404,
    6403: s6403, 6402: s6402, 6401: s6401, 6400: s6400 + e6400, 6399: s6399 + e6399, 6398: s6398 + e6398,
    6397: s6397 + e6397, 6396: s6396 + e6396, 6395: s6395 + e6395, 6394: s6394 + e6394, 6393: s6393 + e6393,
    6392: s6392 + e6392, 6391: s6391 + e6391, 6390: s6390, 6389: s6389, 6388: s6388,
    6387: s6387, 6386: s6386, 6385: s6385, 6384: s6384, 6383: s6383, 6382: s6382, 6381: s6381, 6380: s6380,
    6379: s6379, 6378: s6378, 6377: s6377, 6376: s6376, 6375: s6375, 6374: s6374, 6371: s6371,
}

x = []
y = []
for level, samples in levels.items():
    x.extend(samples)
    y.extend([level] * len(samples))

fig, ax = plt.subplots(figsize=(10, 10), dpi=100)
ax.plot(x, y, "k.", label="Samples\n$\\mu$ = 6395.71, $\\sigma$ = 6.33")
ax.set_title("Run 679, channel013, Pedestal")
ax.set_xlabel("Sample #")
ax.set_ylabel("ADC Counts")
ax.grid(True)
ax.legend(loc="upper right")
plt.tight_layout()
fig.subplots_adjust(left=0.0805, right=0.985, top=0.964, bottom=0.059)
plt.savefig("out.png", dpi=100)
